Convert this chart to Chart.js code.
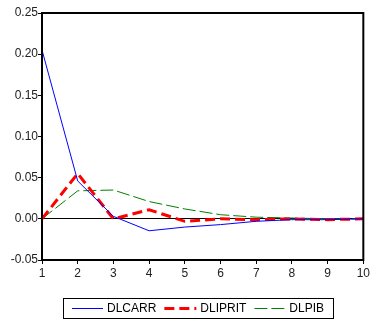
<!DOCTYPE html>
<html><head><meta charset="utf-8">
<script src="https://cdn.jsdelivr.net/npm/chart.js@4/dist/chart.umd.min.js"></script>
<style>html,body{margin:0;padding:0;background:#fff}canvas{display:block}</style>
</head><body>
<canvas id="c" width="372" height="324"></canvas>
<script>
const periods = [1,2,3,4,5,6,7,8,9,10];
const dlcarr  = [0.205, 0.046, 0.003, -0.0145, -0.010, -0.007, -0.003, -0.001, -0.001, 0.000];
const dliprit = [0.000, 0.055, 0.000, 0.011, -0.003, 0.000, -0.001, 0.000, -0.001, 0.000];
const dlpib   = [0.000, 0.034, 0.035, 0.021, 0.012, 0.005, 0.002, 0.001, 0.000, 0.000];
const yTicks  = [-0.05, 0.00, 0.05, 0.10, 0.15, 0.20, 0.25];

const pts = arr => periods.map((p,i)=>({x:p,y:arr[i]}));
const FONT = '12px "Liberation Sans", Arial, sans-serif';

const framePlugin = {
  id:'frame',
  afterDraw(chart){
    const {ctx, chartArea:a} = chart;
    ctx.save();
    ctx.strokeStyle='#000'; ctx.lineWidth=2;
    ctx.strokeRect(a.left, a.top, a.right-a.left, a.bottom-a.top);
    // legend
    const boxL=63, boxT=298, boxH=20;
    ctx.font = FONT;
    ctx.textBaseline='middle';
    const cy = boxT + boxH/2;
    let x = boxL + 9;
    const items = chart.data.datasets.map(ds=>({ds, lineW: ds.borderWidth>2?32:31}));
    const widths = items.map(it=>it.lineW + 4 + ctx.measureText(it.ds.label).width);
    const gap = 8;
    const total = widths.reduce((s,w)=>s+w,0) + gap*(items.length-1);
    const boxW = total + 18;
    ctx.lineWidth=1; ctx.strokeStyle='#000';
    ctx.strokeRect(boxL+0.5, boxT+0.5, Math.round(boxW), boxH);
    items.forEach((it,i)=>{
      const ds=it.ds;
      ctx.beginPath();
      ctx.strokeStyle=ds.borderColor; ctx.lineWidth=ds.borderWidth;
      ctx.setLineDash(ds.borderDash||[]);
      const yy = ds.borderWidth%2===1? Math.round(cy)+0.5 : Math.round(cy);
      ctx.moveTo(x, yy); ctx.lineTo(x+it.lineW, yy); ctx.stroke();
      ctx.setLineDash([]);
      ctx.fillStyle='#000';
      ctx.fillText(ds.label, x+it.lineW+4, cy+1);
      x += widths[i] + gap;
    });
    ctx.restore();
  }
};

new Chart(document.getElementById('c'), {
  type:'line',
  data:{datasets:[
    {label:'DLCARR', data:pts(dlcarr), borderColor:'#0000ff', borderWidth:1, pointRadius:0, tension:0},
    {label:'DLIPRIT', data:pts(dliprit), borderColor:'#ff0000', borderWidth:3, borderDash:[10,5], pointRadius:0, tension:0},
    {label:'DLPIB', data:pts(dlpib), borderColor:'#008000', borderWidth:1, borderDash:[13,4], pointRadius:0, tension:0}
  ]},
  options:{
    responsive:false, animation:false,
    layout:{padding:{left:0,right:8,top:13,bottom:40}},
    plugins:{ tooltip:{enabled:false}, legend:{display:false} },
    scales:{
      x:{type:'linear', min:1, max:10,
        afterBuildTicks(s){s.ticks=periods.map(v=>({value:v}));},
        border:{display:false},
        grid:{drawOnChartArea:false, drawTicks:true, tickLength:4, tickColor:'#000'},
        ticks:{color:'#222', padding:2, maxRotation:0, font:{family:'Liberation Sans, Arial', size:12}},
        afterFit(s){s.height=24;}
      },
      y:{min:-0.05, max:0.25,
        afterBuildTicks(s){s.ticks=yTicks.map(v=>({value:v}));},
        border:{display:false},
        grid:{drawOnChartArea:true, drawTicks:true, tickLength:4, tickColor:'#000', color:c=>c.tick && c.tick.value===0?'#000':'rgba(0,0,0,0)'},
        ticks:{color:'#222', padding:0, callback:v=>v.toFixed(2), font:{family:'Liberation Sans, Arial', size:12}},
        afterFit(s){s.width=42;}
      }
    }
  },
  plugins:[framePlugin]
});
</script>
</body></html>
